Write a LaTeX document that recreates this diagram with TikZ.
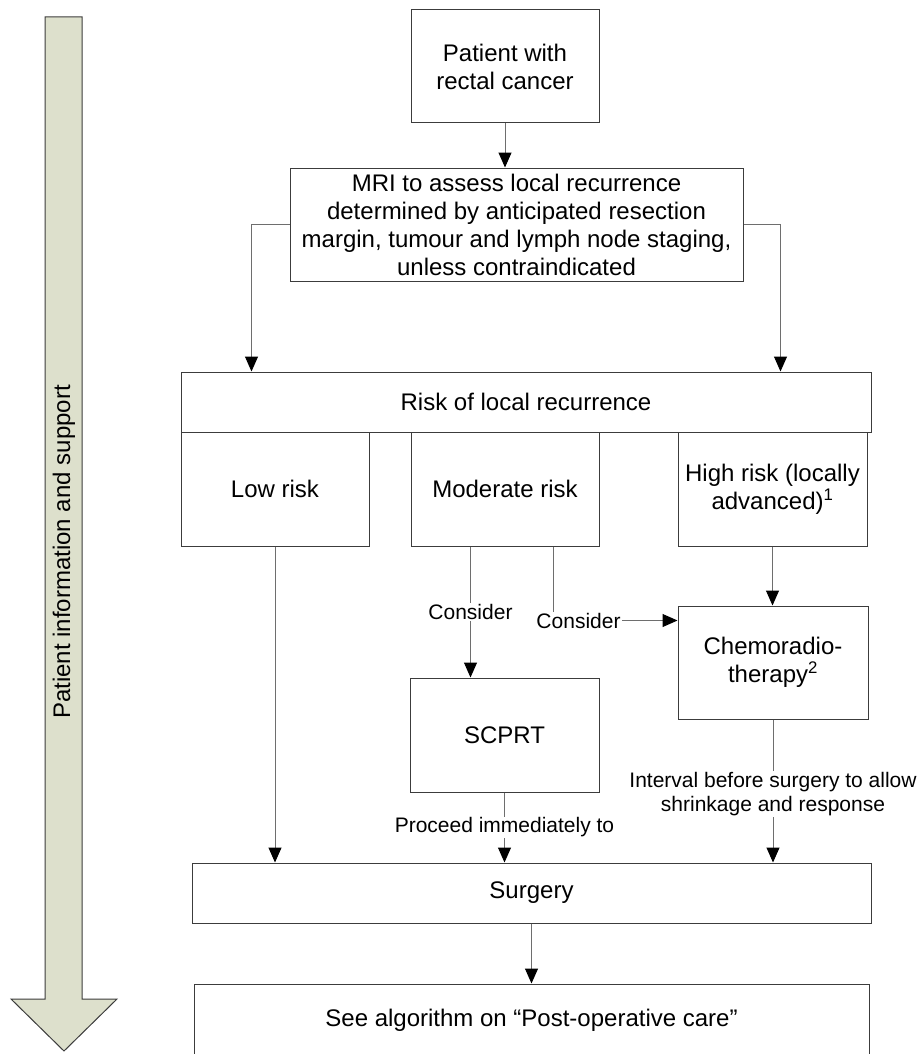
\documentclass[tikz,border=0pt]{standalone}
\usepackage{fontspec}
\setmainfont{Liberation Sans}
\usetikzlibrary{arrows.meta}
\definecolor{arrowfill}{RGB}{221,224,204}
\definecolor{edgegray}{RGB}{60,60,60}
\definecolor{linegray}{RGB}{110,110,110}
\begin{document}
\begin{tikzpicture}[x=1pt,y=-1pt,
  box/.style={draw=edgegray, line width=1pt, rectangle, align=center, inner sep=0pt,
    font=\fontsize{24}{28}\selectfont},
  conn/.style={draw=linegray, line width=1pt,
    -{Triangle[width=13pt,length=15pt,fill=black,color=black]}},
  lbl/.style={fill=white, inner sep=1pt, align=center, font=\fontsize{21}{24}\selectfont}]
\path[use as bounding box] (0,0) rectangle (922,1054);
\clip (0,0) rectangle (922,1054);

% side arrow
\draw[draw=edgegray, fill=arrowfill, line width=1pt]
  (45,17) -- (82,17) -- (82,999) -- (117,999) -- (64,1051) -- (11,999) -- (45,999) -- cycle;
\node[rotate=90, inner sep=0pt, font=\fontsize{24}{28}\selectfont] (side) at (64,552) {Patient information and support};

% boxes
\node[box, minimum width=188pt, minimum height=113pt] (patient) at (505,66.5) {Patient with\\rectal cancer};
\node[box, minimum width=453pt, minimum height=113pt] (mri) at (516.5,224.5)
  {MRI to assess local recurrence\\determined by anticipated resection\\margin, tumour and lymph node staging,\\unless contraindicated};
\node[box, minimum width=690pt, minimum height=60pt] (risk) at (526,402) {Risk of local recurrence};
\node[box, minimum width=188pt, minimum height=114pt] (low) at (275,489) {Low risk};
\node[box, minimum width=188pt, minimum height=114pt] (mod) at (505,489) {Moderate risk};
\node[box, minimum width=189pt, minimum height=114pt] (high) at (772.5,489) {High risk (locally\\advanced)\textsuperscript{1}};
\node[box, minimum width=190pt, minimum height=113pt] (chemo) at (773,662.5) {Chemoradio-\\therapy\textsuperscript{2}};
\node[box, minimum width=189pt, minimum height=114pt] (scprt) at (504.5,735) {SCPRT};
\node[box, minimum width=679pt, minimum height=60pt] (surgery) at (531.5,893) {Surgery};
\node[box, minimum width=675pt, minimum height=72pt] (post) at (531.5,1020) {See algorithm on “Post-operative care”};

% connectors
\draw[conn] (patient.south) -- (patient.south |- mri.north);
\draw[conn] (mri.west) -| ([xshift=71pt]risk.north west);
\draw[conn] (mri.east) -| ([xshift=-91pt]risk.north east);
\draw[conn] (low.south) -- (low.south |- surgery.north);
\draw[conn] ([xshift=60pt]mod.south west) -- ([xshift=60pt]mod.south west |- scprt.north)
  node[lbl, pos=0.5] {Consider};
\draw[conn] ([xshift=143pt]mod.south west) |- ([yshift=-15pt]chemo.north west)
  node[lbl, pos=0.5, xshift=25pt] {Consider};
\draw[conn] (high.south) -- (high.south |- chemo.north);
\draw[conn] (scprt.south) -- (scprt.south |- surgery.north)
  node[lbl, pos=0.5] {Proceed immediately to};
\draw[conn] (chemo.south) -- (chemo.south |- surgery.north)
  node[lbl, pos=0.52] {Interval before surgery to allow\\shrinkage and response};
\draw[conn] (surgery.south) -- (surgery.south |- post.north);
\end{tikzpicture}
\end{document}
